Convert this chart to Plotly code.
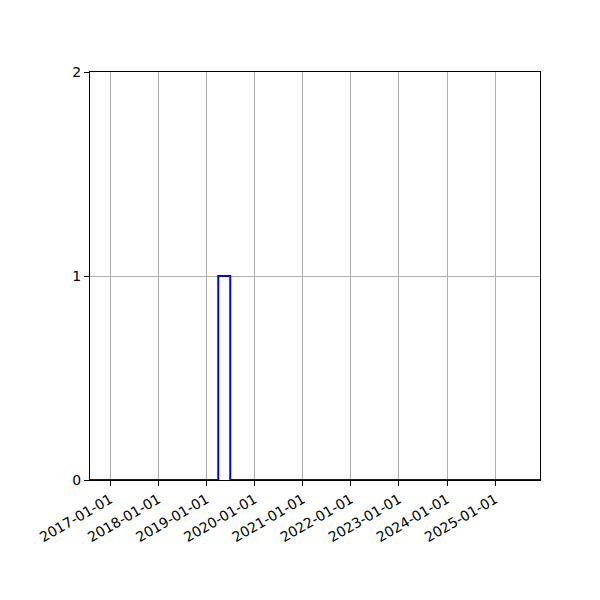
import plotly.graph_objects as go

dates = ["2016-08-01", "2019-04-01", "2019-07-01", "2025-12-06"]
values = [0, 1, 0, 0]
tick_dates = ["2017-01-01", "2018-01-01", "2019-01-01", "2020-01-01", "2021-01-01",
              "2022-01-01", "2023-01-01", "2024-01-01", "2025-01-01"]
y_ticks = [0, 1, 2]

fig = go.Figure()
fig.add_trace(go.Scatter(x=dates, y=values, mode="lines", line_shape="hv",
                         line=dict(color="#0000ff", width=2), showlegend=False))

fig.update_layout(
    width=600, height=600,
    margin=dict(l=82, r=68, t=64, b=128, autoexpand=False),
    plot_bgcolor="white", paper_bgcolor="white",
    font=dict(family="DejaVu Sans", size=14, color="black"),
)
fig.update_xaxes(
    range=[dates[0], dates[-1]], tickvals=tick_dates, ticktext=tick_dates,
    tickangle=-30, showgrid=True, gridcolor="#b0b0b0", gridwidth=1,
    ticks="outside", ticklen=5, tickcolor="black",
    showline=True, linecolor="black", linewidth=1, mirror=True, zeroline=False,
)
fig.update_yaxes(
    range=[0, 2], tickvals=y_ticks, showgrid=True, gridcolor="#b0b0b0", gridwidth=1,
    ticks="outside", ticklen=5, tickcolor="black",
    showline=True, linecolor="black", linewidth=1, mirror=True, zeroline=False,
)
fig.write_html("out.html")
